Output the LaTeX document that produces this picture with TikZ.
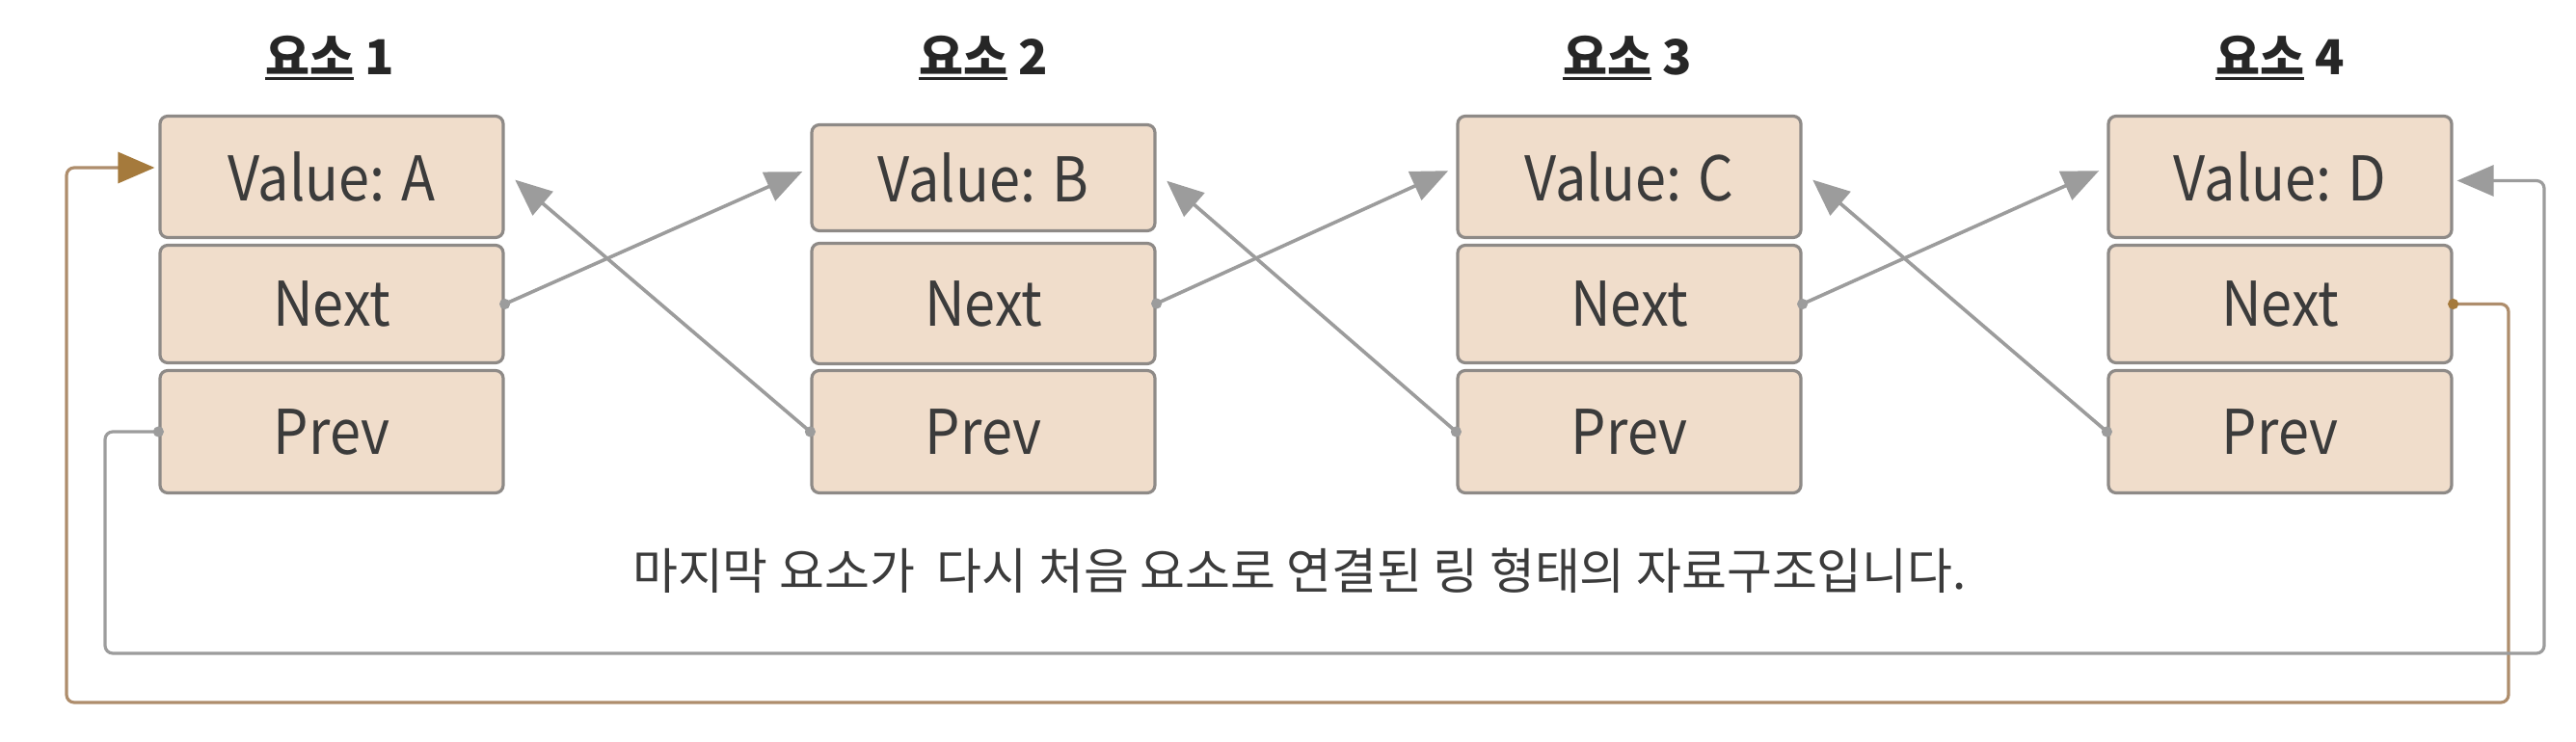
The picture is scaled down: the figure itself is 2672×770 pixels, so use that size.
\documentclass[tikz,border=0pt]{standalone}
\usepackage{fontspec}
\setmainfont{Noto Sans CJK KR}
\newfontfamily\cellfont[FakeStretch=0.9]{Noto Sans CJK KR}
\usetikzlibrary{arrows.meta}
\definecolor{cellfill}{HTML}{F0DDCB}
\definecolor{cellline}{HTML}{8E8A87}
\definecolor{linkgray}{HTML}{9C9C9C}
\definecolor{ringbrown}{HTML}{AE8D6C}
\definecolor{tipbrown}{HTML}{A57A3C}
\definecolor{txt}{HTML}{3B3B3B}
\newlength\ulwd
\newcommand\ulword[1]{\settowidth\ulwd{#1}\rlap{\rule[-2.5pt]{\ulwd}{1.5pt}}#1}
\tikzset{
  elemcell/.style={draw=cellline,fill=cellfill,line width=1.6pt,rounded corners=4pt,
    minimum width=178pt,inner sep=0pt,text=txt,font=\cellfont\fontsize{32}{36}\selectfont},
  elemtitle/.style={text=black!85,font=\fontsize{25}{30}\selectfont\bfseries},
  ptrline/.style={draw=linkgray,line width=1.8pt,-{Triangle[length=19pt,width=16pt]}},
  ringline/.style={line width=1.6pt,rounded corners=4pt}
}
\begin{document}
\begin{tikzpicture}[x=0.5pt,y=-0.5pt]
  \useasboundingbox (0,0) rectangle (2672,770);
  % element titles
  \node[elemtitle] (t1) at (342,60) {\ulword{요소}~1};
  \node[elemtitle] (t2) at (1020,60) {\ulword{요소}~2};
  \node[elemtitle] (t3) at (1688,60) {\ulword{요소}~3};
  \node[elemtitle] (t4) at (2365,60) {\ulword{요소}~4};
  % element 1
  \node[elemcell,minimum height=63pt] (v1) at (344,183.5) {Value: A};
  \node[elemcell,minimum height=61pt] (n1) at (344,315.5) {Next};
  \node[elemcell,minimum height=63.5pt] (p1) at (344,448) {Prev};
  % element 2
  \node[elemcell,minimum height=55pt] (v2) at (1020,184.5) {Value: B};
  \node[elemcell,minimum height=62.5pt] (n2) at (1020,315) {Next};
  \node[elemcell,minimum height=63.5pt] (p2) at (1020,448) {Prev};
  % element 3
  \node[elemcell,minimum height=63pt] (v3) at (1690,183.5) {Value: C};
  \node[elemcell,minimum height=61pt] (n3) at (1690,315.5) {Next};
  \node[elemcell,minimum height=63.5pt] (p3) at (1690,448) {Prev};
  % element 4
  \node[elemcell,minimum height=63pt] (v4) at (2365,183.5) {Value: D};
  \node[elemcell,minimum height=61pt] (n4) at (2365,315.5) {Next};
  \node[elemcell,minimum height=63.5pt] (p4) at (2365,448) {Prev};
  % caption
  \node[text=txt,font=\fontsize{25.5}{30}\selectfont] (cap) at (1348,592)
    {마지막 요소가\ \ 다시 처음 요소로 연결된 링 형태의 자료구조입니다.};
  % next pointers
  \draw[ptrline,shorten >=4.5pt] (n1.east) -- ([yshift=5pt]v2.west);
  \draw[ptrline,shorten >=4.5pt] (n2.east) -- ([yshift=5pt]v3.west);
  \draw[ptrline,shorten >=4.5pt] (n3.east) -- ([yshift=5pt]v4.west);
  \fill[linkgray] (n1.east) circle[radius=2.8pt];
  \fill[linkgray] (n2.east) circle[radius=2.8pt];
  \fill[linkgray] (n3.east) circle[radius=2.8pt];
  % prev pointers
  \draw[ptrline,shorten >=7pt] (p2.west) -- ([yshift=3pt]v1.east);
  \draw[ptrline,shorten >=7pt] (p3.west) -- ([yshift=3pt]v2.east);
  \draw[ptrline,shorten >=7pt] (p4.west) -- ([yshift=3pt]v3.east);
  \fill[linkgray] (p2.west) circle[radius=2.8pt];
  \fill[linkgray] (p3.west) circle[radius=2.8pt];
  \fill[linkgray] (p4.west) circle[radius=2.8pt];
  % ring: last next -> first value
  \coordinate (rb1) at (2602,729);
  \coordinate (rb2) at (69,729);
  \draw[ringline,draw=ringbrown,-{Triangle[length=19pt,width=16pt,color=tipbrown]},shorten >=2pt]
    (n4.east) -| (rb1) -- (rb2) |- ([yshift=4.75pt]v1.west);
  \fill[tipbrown] (n4.east) circle[radius=2.8pt];
  % ring: first prev -> last value
  \coordinate (rg1) at (109,678);
  \coordinate (rg2) at (2639,678);
  \draw[ringline,draw=linkgray,-{Triangle[length=19pt,width=16pt,color=linkgray]},shorten >=2pt]
    (p1.west) -| (rg1) -- (rg2) |- ([yshift=-2pt]v4.east);
  \fill[linkgray] (p1.west) circle[radius=2.8pt];
\end{tikzpicture}
\end{document}
